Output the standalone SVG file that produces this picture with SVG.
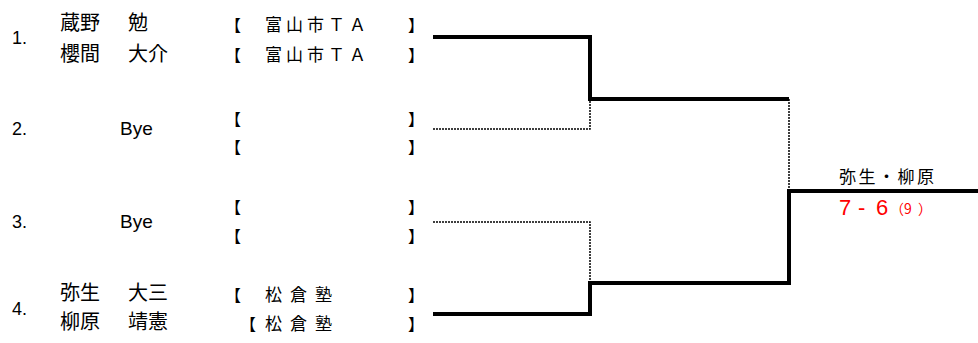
<svg xmlns="http://www.w3.org/2000/svg" width="978" height="343" viewBox="0 0 978 343">
<style>
.num{font-family:"Liberation Sans",sans-serif;font-size:18px;fill:#000}
.name{font-family:"Noto Sans CJK JP",sans-serif;font-size:20px;fill:#000}
.bye{font-family:"Liberation Sans",sans-serif;font-size:19px;fill:#000}
.br{font-family:"Noto Sans CJK JP",sans-serif;font-size:16px;fill:#000}
.team{font-family:"Noto Sans CJK JP",sans-serif;font-size:17px;fill:#000;letter-spacing:4px}
.win{font-family:"Noto Sans CJK JP",sans-serif;font-size:17px;fill:#000;letter-spacing:2.5px}
.score{font-family:"Liberation Sans",sans-serif;font-size:22px;fill:#ff0000}
.sub{font-family:"Noto Sans CJK JP",sans-serif;font-size:14px;fill:#ff0000}
.thick{fill:none;stroke:#000;stroke-width:4}
.dot{fill:none;stroke:#000;stroke-width:1.5;stroke-dasharray:2 1}
</style>
<rect width="978" height="343" fill="#fff"/>
<g id="connectors">
<path class="thick" d="M433 37 H590 V99 H789"/>
<path class="dot" d="M433 129 H590 V99"/>
<path class="dot" d="M433 222 H590 V283"/>
<path class="thick" d="M433 314 H590 V283 H789 V191 H978"/>
<path class="dot" d="M789 99 V191"/>
</g>
<g id="entry1">
<text class="num" x="12" y="44">1.</text>
<text class="name" x="60" y="30">蔵野</text>
<text class="name" x="128" y="30">勉</text>
<text class="name" x="60" y="61">櫻間</text>
<text class="name" x="128" y="61">大介</text>
<text class="br" x="225" y="31">【</text>
<text class="team" x="265" y="31">富山市ＴＡ</text>
<text class="br" x="408" y="31">】</text>
<text class="br" x="225" y="61">【</text>
<text class="team" x="265" y="61">富山市ＴＡ</text>
<text class="br" x="408" y="61">】</text>
</g>
<g id="entry2">
<text class="num" x="12" y="135">2.</text>
<text class="bye" x="120" y="135">Bye</text>
<text class="br" x="225" y="125">【</text>
<text class="br" x="408" y="125">】</text>
<text class="br" x="225" y="153">【</text>
<text class="br" x="408" y="153">】</text>
</g>
<g id="entry3">
<text class="num" x="12" y="228">3.</text>
<text class="bye" x="120" y="228">Bye</text>
<text class="br" x="225" y="213">【</text>
<text class="br" x="408" y="213">】</text>
<text class="br" x="225" y="242">【</text>
<text class="br" x="408" y="242">】</text>
</g>
<g id="entry4">
<text class="num" x="12" y="315">4.</text>
<text class="name" x="60" y="300">弥生</text>
<text class="name" x="128" y="300">大三</text>
<text class="name" x="60" y="329">柳原</text>
<text class="name" x="128" y="329">靖憲</text>
<text class="br" x="225" y="301">【</text>
<text class="team" x="265 290 315" y="301">松倉塾</text>
<text class="br" x="408" y="301">】</text>
<text class="br" x="240" y="330">【</text>
<text class="team" x="265 290 315" y="330">松倉塾</text>
<text class="br" x="408" y="330">】</text>
</g>
<g id="result">
<text class="win" x="839" y="183">弥生・柳原</text>
<text class="score" x="839 858 876" y="215">7-6</text>
<text class="sub" x="890 904 918" y="214">（9）</text>
</g>
</svg>
